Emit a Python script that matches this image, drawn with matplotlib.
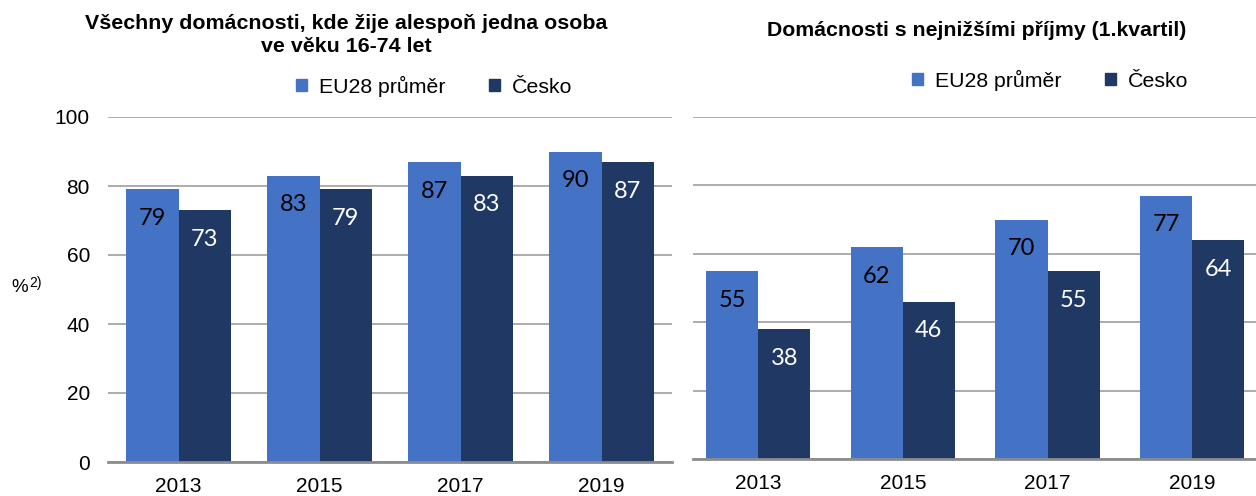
import numpy as np
import matplotlib.pyplot as plt
from matplotlib.patches import Patch

years = ['2013', '2015', '2017', '2019']
series_names = ['EU28 průměr', 'Česko']

# all households with at least one person aged 16-74
all_eu = [79, 83, 87, 90]
all_cz = [73, 79, 83, 87]

# lowest income households (1st quartile)
low_eu = [55, 62, 70, 77]
low_cz = [38, 46, 55, 64]

title_left = 'Všechny domácnosti, kde žije alespoň jedna osoba\nve věku 16-74 let'
title_right = 'Domácnosti s nejnižšími příjmy (1.kvartil)'

c_eu = '#4472C4'
c_cz = '#203864'
grid_color = '#A6A6A6'
base_color = '#8C8C8C'

plt.rcParams['font.family'] = ['Liberation Sans', 'DejaVu Sans']

fig = plt.figure(figsize=(12.56, 4.96), dpi=100)
ax1 = fig.add_axes([108 / 1256, 34 / 496, 564 / 1256, 345 / 496])
ax2 = fig.add_axes([693 / 1256, 37 / 496, 563 / 1256, 342 / 496])


def draw_panel(ax, eu, cz, width, xlim, show_y):
    x = np.arange(len(years))
    b1 = ax.bar(x - width / 2, eu, width, color=c_eu, zorder=3)
    b2 = ax.bar(x + width / 2, cz, width, color=c_cz, zorder=3)
    for bars, col in ((b1, 'black'), (b2, 'white')):
        for r in bars:
            ax.annotate('%d' % round(r.get_height()),
                        (r.get_x() + r.get_width() / 2, r.get_height()),
                        xytext=(0, -21), textcoords='offset points',
                        ha='center', va='center', color=col,
                        fontsize=17, family=['Lato', 'DejaVu Sans'], zorder=4)
    ax.set_ylim(0, 100)
    ax.set_xlim(*xlim)
    ax.set_yticks(range(0, 101, 20))
    ax.set_xticks(x)
    ax.set_xticklabels(years)
    ax.yaxis.grid(True, color=grid_color, linewidth=1.3, zorder=0)
    for s in ('left', 'right', 'top'):
        ax.spines[s].set_visible(False)
    ax.spines['bottom'].set_color(base_color)
    ax.spines['bottom'].set_linewidth(2)
    ax.spines['bottom'].set_zorder(5)
    ax.tick_params(axis='both', length=0, labelsize=15)
    ax.tick_params(axis='x', pad=11)
    ax.tick_params(axis='y', pad=13)
    if not show_y:
        ax.set_yticklabels([])
    return b1, b2


draw_panel(ax1, all_eu, all_cz, 0.369, (-0.5, 3.5), True)
draw_panel(ax2, low_eu, low_cz, 0.36, (-0.45, 3.44), False)

handles = [Patch(color=c_eu), Patch(color=c_cz)]
for cx, cy in ((434 / 1256, 1 - 86 / 496), (1050 / 1256, 1 - 80 / 496)):
    fig.legend(handles, series_names, loc='center', bbox_to_anchor=(cx, cy),
               ncol=2, frameon=False, fontsize=15.3, handlelength=0.52,
               handleheight=0.52, handletextpad=0.56, columnspacing=2.05)

fig.text(346 / 1256, 1 - 35 / 496, title_left, ha='center', va='center',
         fontsize=15.4, fontweight='bold', linespacing=1.25)
fig.text(977 / 1256, 1 - 31 / 496, title_right, ha='center', va='center',
         fontsize=15.3, fontweight='bold')

fig.text(11 / 1256, 1 - 288 / 496, '%', ha='left', va='center', fontsize=13.5)
fig.text(29 / 1256, 1 - 283 / 496, '2)', ha='left', va='center', fontsize=10)

fig.savefig('out.png', dpi=100)
